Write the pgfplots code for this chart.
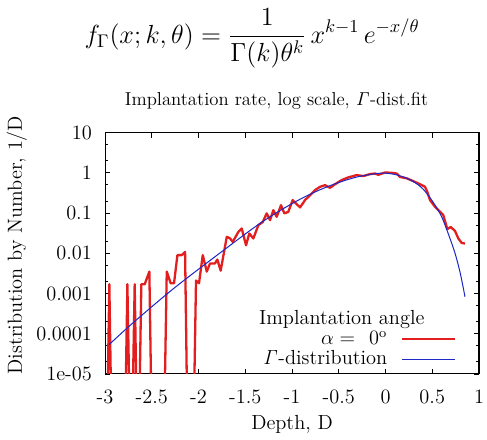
\documentclass[12pt,border=0pt]{standalone}
\usepackage{fix-cm}
\usepackage{pgfplots}
\pgfplotsset{compat=1.18}
\definecolor{gred}{RGB}{226,30,30}
\definecolor{gblue}{RGB}{30,40,200}
\begin{document}
\begin{tikzpicture}
\useasboundingbox (-61.8pt,-38.8pt) rectangle (224.7pt,220pt);
\begin{axis}[
  at={(0,0)}, anchor=south west,
  scale only axis, width=220pt, height=142pt,
  xmin=-3, xmax=1, ymin=1e-5, ymax=10, ymode=log,
  xtick={-3,-2.5,-2,-1.5,-1,-0.5,0,0.5,1},
  xticklabels={-3,-2.5,-2,-1.5,-1,-0.5,0,0.5,1},
  ytick={1e-5,1e-4,1e-3,1e-2,1e-1,1,10},
  yticklabels={1e-05,0.0001,0.001,0.01,0.1,1,10},
  minor ytick={2e-5,5e-5,2e-4,5e-4,2e-3,5e-3,2e-2,5e-2,0.2,0.5,2,5},
  tick align=inside, tick pos=both,
  major tick length=3pt, minor tick length=1.6pt,
  axis line style={line width=0.6pt},
  every tick/.style={black, line width=0.5pt},
  yticklabel style={xshift=-3.6pt},
  xticklabel style={yshift=-5.4pt},
  xlabel={Depth, D},
  xlabel style={at={(axis description cs:0.5,0)}, anchor=base, yshift=-32.9pt},
  ylabel={Distribution by Number, 1/D},
  ylabel style={at={(axis description cs:-0.236,0.534)}, anchor=center},
  legend style={draw=none, fill=none, at={(0.939,0.018)}, anchor=south east, inner sep=0pt, row sep=0pt,
    nodes={inner sep=1pt, text height=8pt, text depth=1.8pt}},
  legend cell align=right, legend plot pos=right,
  legend image code/.code={\path (0pt,0pt); \draw[#1] (7pt,0pt) -- (38pt,0pt);},
]
\addplot[gred, line width=1.35pt, line join=round] coordinates {
(-2.99,1e-8) (-2.954,0.0017) (-2.92,1e-8) (-2.797,1e-8) (-2.761,0.0017) (-2.722,1e-8)
(-2.683,0.0017) (-2.648,1e-8) (-2.612,0.0017) (-2.576,0.0017) (-2.526,0.0035) (-2.49,1e-8)
(-2.38,1e-8) (-2.34,0.0035) (-2.298,0.0018) (-2.262,0.0018) (-2.226,0.009) (-2.18,0.009)
(-2.144,0.0108) (-2.109,1e-8) (-2.065,1e-8) (-2.027,0.0021) (-1.995,0.0018) (-1.955,0.009)
(-1.912,0.0035) (-1.877,0.0056) (-1.824,0.0056) (-1.799,0.007) (-1.763,0.0037) (-1.698,0.0257)
(-1.663,0.0234) (-1.634,0.0192) (-1.574,0.034) (-1.538,0.0414) (-1.492,0.0158) (-1.457,0.031)
(-1.414,0.0233) (-1.36,0.05) (-1.313,0.06) (-1.271,0.098) (-1.235,0.0665) (-1.2,0.118)
(-1.164,0.0805) (-1.118,0.157) (-1.082,0.098) (-1.04,0.107) (-0.993,0.21) (-0.957,0.173)
(-0.914,0.138) (-0.861,0.21) (-0.807,0.279) (-0.754,0.372) (-0.7,0.449) (-0.647,0.494)
(-0.594,0.424) (-0.54,0.52) (-0.469,0.66) (-0.398,0.77) (-0.308,0.877) (-0.237,0.83)
(-0.166,0.93) (-0.112,0.96) (-0.077,0.89) (-0.005,1.02) (0.066,1.0) (0.12,0.96)
(0.155,0.79) (0.227,0.73) (0.297,0.62) (0.369,0.52) (0.422,0.45) (0.447,0.337)
(0.476,0.21) (0.529,0.143) (0.583,0.107) (0.618,0.0887) (0.661,0.04) (0.697,0.045)
(0.743,0.036) (0.779,0.0233) (0.815,0.018) (0.85,0.0175)
};
\addlegendentry{$\alpha =\hspace{5pt} 0^{\mathrm{o}}$}
\addplot[gblue, line width=0.6pt, smooth] coordinates {
(-2.957,5.37e-5) (-2.75,1.48e-4) (-2.526,4.17e-4) (-2.3,1.15e-3) (-2.109,2.57e-3)
(-1.9,6.03e-3) (-1.7,0.0135) (-1.5,0.0302) (-1.3,0.0646) (-1.1,0.126) (-0.9,0.229)
(-0.7,0.380) (-0.5,0.575) (-0.3,0.794) (-0.1,0.955) (0.0,0.977) (0.1,0.912) (0.2,0.776)
(0.3,0.603) (0.4,0.398) (0.5,0.200) (0.6,0.0813) (0.7,0.0200) (0.75,0.00891) (0.8,0.00316)
(0.85,0.000832)
};
\addlegendentry{$\mathit{\Gamma}$-distribution}
\node[anchor=base] at (rel axis cs:0.633,0.206) {Implantation angle};
\end{axis}
\node[anchor=base] at (100.9pt,158.2pt) {\fontsize{11}{13}\selectfont Implantation rate, log scale, $\mathit{\Gamma}$-dist.fit};
\node at (86.5pt,197.5pt) {\fontsize{15.4}{18}\selectfont $\displaystyle f_{\Gamma}(x;k,\theta)=\frac{1}{\Gamma(k)\theta^k}\,x^{k-1}\,e^{-x/\theta}$};
\end{tikzpicture}
\end{document}
